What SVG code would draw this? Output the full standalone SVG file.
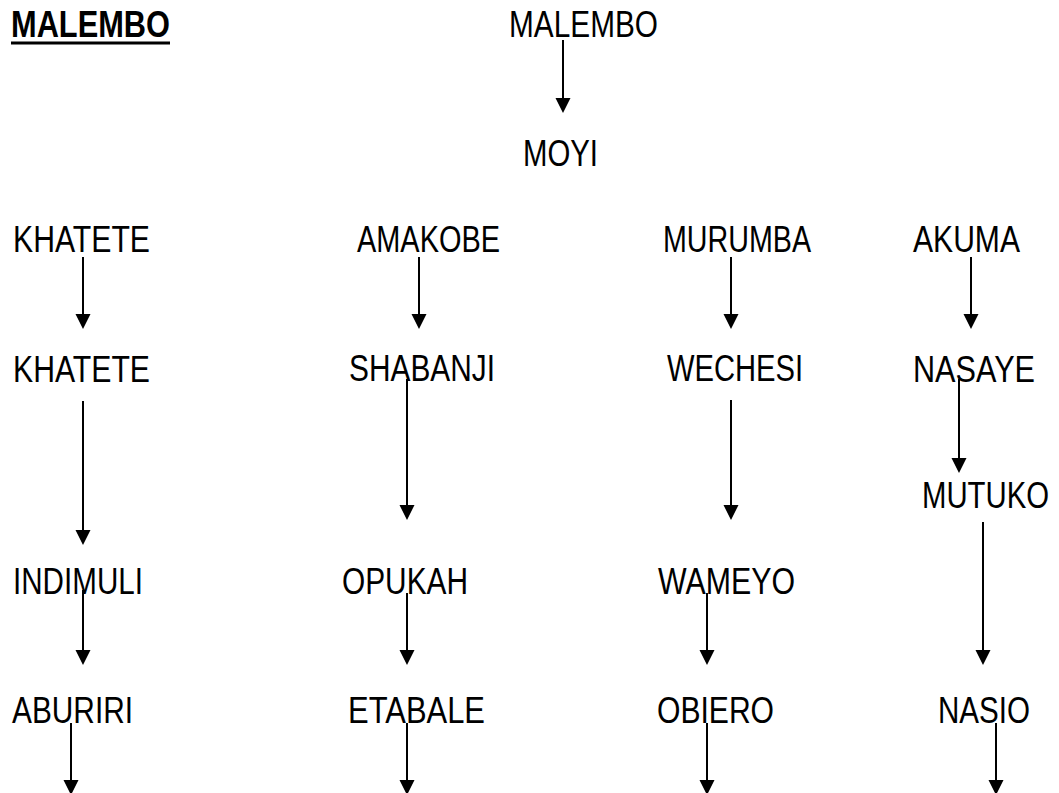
<svg xmlns="http://www.w3.org/2000/svg" width="1059" height="793" viewBox="0 0 1059 793">
<style>
text{font-family:"Liberation Sans",Arial,sans-serif;font-size:36px;fill:#000}
.b{font-weight:bold}
.ln{stroke:#000;stroke-width:2;fill:none}
.hd{fill:#000;stroke:none}
</style>
<rect width="1059" height="793" fill="#fff"/>
<g id="title"><text class="b" x="11" y="37" textLength="159" lengthAdjust="spacingAndGlyphs">MALEMBO</text><rect x="11" y="41.5" width="159" height="3" fill="#000"/></g>
<g id="n-malembo"><text x="509" y="37" textLength="149" lengthAdjust="spacingAndGlyphs">MALEMBO</text></g>
<g id="n-moyi"><text x="523" y="166" textLength="75" lengthAdjust="spacingAndGlyphs">MOYI</text></g>
<g id="n-khatete1"><text x="13" y="252" textLength="137" lengthAdjust="spacingAndGlyphs">KHATETE</text></g>
<g id="n-amakobe"><text x="357" y="252" textLength="143" lengthAdjust="spacingAndGlyphs">AMAKOBE</text></g>
<g id="n-murumba"><text x="663" y="252" textLength="148" lengthAdjust="spacingAndGlyphs">MURUMBA</text></g>
<g id="n-akuma"><text x="913" y="252" textLength="107" lengthAdjust="spacingAndGlyphs">AKUMA</text></g>
<g id="n-khatete2"><text x="13" y="382" textLength="137" lengthAdjust="spacingAndGlyphs">KHATETE</text></g>
<g id="n-shabanji"><text x="349" y="381" textLength="146" lengthAdjust="spacingAndGlyphs">SHABANJI</text></g>
<g id="n-wechesi"><text x="667" y="381" textLength="136" lengthAdjust="spacingAndGlyphs">WECHESI</text></g>
<g id="n-nasaye"><text x="913" y="382" textLength="122" lengthAdjust="spacingAndGlyphs">NASAYE</text></g>
<g id="n-mutuko"><text transform="translate(922 508) scale(0.815 1)">MUTUKO</text></g>
<g id="n-indimuli"><text x="13" y="594" textLength="130" lengthAdjust="spacingAndGlyphs">INDIMULI</text></g>
<g id="n-opukah"><text x="342" y="594" textLength="126" lengthAdjust="spacingAndGlyphs">OPUKAH</text></g>
<g id="n-wameyo"><text x="658" y="594" textLength="137" lengthAdjust="spacingAndGlyphs">WAMEYO</text></g>
<g id="n-aburiri"><text x="12" y="723" textLength="121" lengthAdjust="spacingAndGlyphs">ABURIRI</text></g>
<g id="n-etabale"><text x="348" y="723" textLength="137" lengthAdjust="spacingAndGlyphs">ETABALE</text></g>
<g id="n-obiero"><text x="657" y="723" textLength="117" lengthAdjust="spacingAndGlyphs">OBIERO</text></g>
<g id="n-nasio"><text x="938" y="723" textLength="92" lengthAdjust="spacingAndGlyphs">NASIO</text></g>
<g id="connectors">
<path class="ln" d="M563 40V100M83 257V316M419 257V316M731 257V316M971 257V316M83 401V532M407 379V507M731 400V507M959 379V460M983 522V652M83 590V652M407 593V652M707 593V652M71 723V782M407 723V782M707 723V782M996 723V782"/>
<path class="hd" d="M555.5 98H570.5L563 113ZM75.5 314H90.5L83 329ZM411.5 314H426.5L419 329ZM723.5 314H738.5L731 329ZM963.5 314H978.5L971 329ZM75.5 530H90.5L83 545ZM399.5 505H414.5L407 520ZM723.5 505H738.5L731 520ZM951.5 458H966.5L959 473ZM975.5 650H990.5L983 665ZM75.5 650H90.5L83 665ZM399.5 650H414.5L407 665ZM699.5 650H714.5L707 665ZM63.5 780H78.5L71 795ZM399.5 780H414.5L407 795ZM699.5 780H714.5L707 795ZM988.5 780H1003.5L996 795Z"/>
</g>
</svg>
